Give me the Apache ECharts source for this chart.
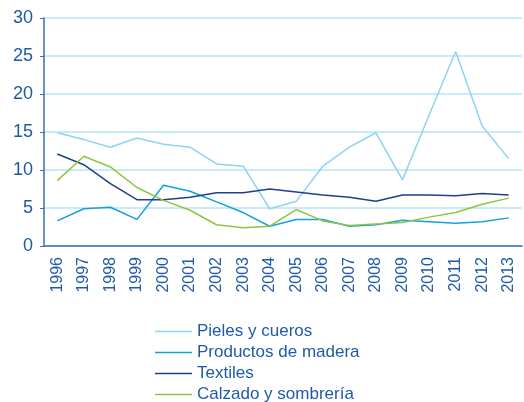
<!DOCTYPE html>
<html lang="es">
<head>
<meta charset="UTF-8">
<title>Chart</title>
<script src="https://cdn.jsdelivr.net/npm/echarts@6/dist/echarts.min.js"></script>
<style>
	html, body { margin: 0; padding: 0; background: #fff; }
	#main { width: 524px; height: 402px; }
</style>
</head>
<body>
<div id="main"></div>
<script>
	const years = ['1996', '1997', '1998', '1999', '2000', '2001', '2002', '2003', '2004',
		'2005', '2006', '2007', '2008', '2009', '2010', '2011', '2012', '2013'];
	const pieles = [14.9, 14.0, 13.0, 14.2, 13.4, 13.0, 10.8, 10.5, 4.9, 5.9, 10.5, 13.0, 14.9, 8.7, 17.2, 25.6, 15.8, 11.5];
	const madera = [3.3, 4.9, 5.1, 3.5, 8.0, 7.2, 5.8, 4.4, 2.6, 3.5, 3.5, 2.6, 2.8, 3.4, 3.2, 3.0, 3.2, 3.7];
	const textiles = [12.1, 10.7, 8.2, 6.1, 6.1, 6.4, 7.0, 7.0, 7.5, 7.1, 6.7, 6.4, 5.9, 6.7, 6.7, 6.6, 6.9, 6.7];
	const calzado = [8.6, 11.8, 10.4, 7.7, 6.0, 4.7, 2.8, 2.4, 2.6, 4.8, 3.3, 2.7, 2.9, 3.1, 3.8, 4.4, 5.5, 6.3];

	const textColor = '#1f5aa8';
	const axisColor = '#3a6db5';
	const font = 'Liberation Sans, Arial, sans-serif';

	function line(name, data, color) {
		return {
			name: name,
			type: 'line',
			data: data,
			symbol: 'none',
			lineStyle: { color: color, width: 1.5 },
			itemStyle: { color: color }
		};
	}

	let chart = echarts.init(document.getElementById('main'));
	chart.setOption({
		animation: false,
		grid: { left: 44, right: 2, top: 18, bottom: 156 },
		legend: {
			orient: 'vertical',
			left: 150,
			top: 318,
			height: 100,
			icon: 'rect',
			itemWidth: 37,
			itemHeight: 1.5,
			itemGap: 4,
			textStyle: { color: textColor, fontSize: 17, fontFamily: font }
		},
		xAxis: {
			type: 'category',
			data: years,
			boundaryGap: true,
			axisLine: { lineStyle: { color: axisColor, width: 1.5 } },
			axisTick: { lineStyle: { color: axisColor }, length: 5 },
			axisLabel: { rotate: 90, color: textColor, fontSize: 16, margin: 11, fontFamily: font }
		},
		yAxis: {
			type: 'value',
			min: 0,
			max: 30,
			interval: 5,
			axisLine: { show: true, lineStyle: { color: axisColor, width: 1.5 } },
			axisTick: { show: true, length: 4, lineStyle: { color: axisColor } },
			axisLabel: { color: textColor, fontSize: 18, margin: 11, fontFamily: font },
			splitLine: { lineStyle: { color: '#b5e4f8', width: 1.5 } }
		},
		series: [
			line('Pieles y cueros', pieles, '#8dd3f4'),
			line('Productos de madera', madera, '#14a0e0'),
			line('Textiles', textiles, '#1e3f8e'),
			line('Calzado y sombrería', calzado, '#8cc63f')
		]
	});
</script>
</body>
</html>
